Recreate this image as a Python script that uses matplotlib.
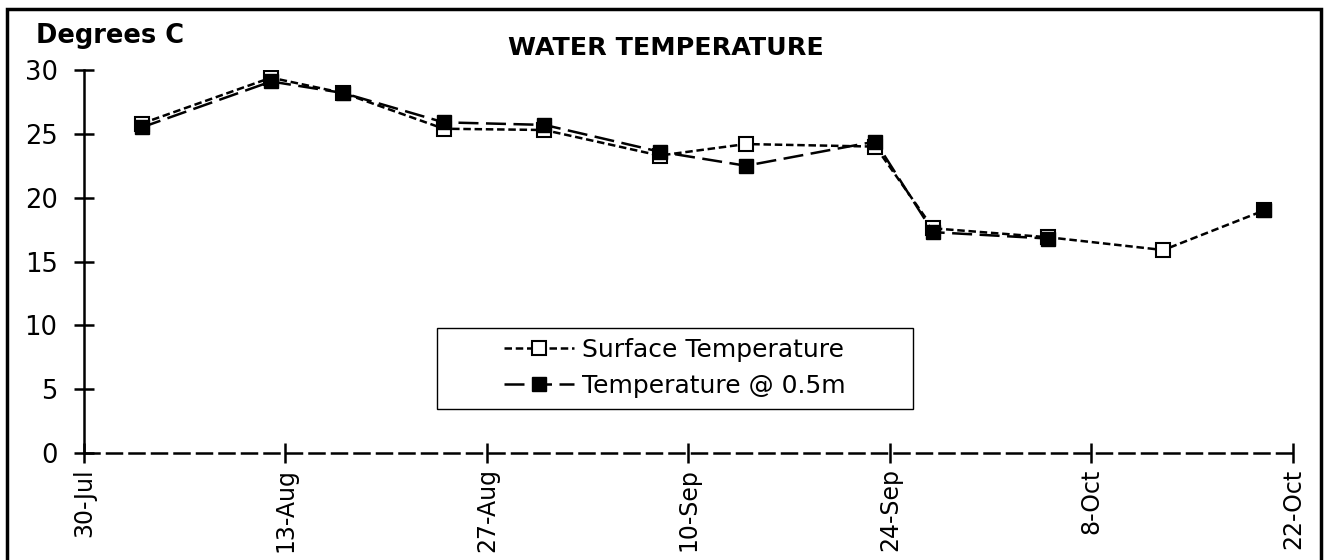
import numpy as np
import pandas as pd
import matplotlib
matplotlib.use("Agg")
import matplotlib.pyplot as plt
from matplotlib.patches import Rectangle

plt.rcParams['font.family'] = ['DejaVu Sans']

# sample dates and readings
dates = pd.to_datetime(["2007-08-03", "2007-08-12", "2007-08-17", "2007-08-24",
                        "2007-08-31", "2007-09-08", "2007-09-14", "2007-09-23",
                        "2007-09-27", "2007-10-05", "2007-10-13", "2007-10-20"])
surface = [25.8, 29.4, 28.2, 25.4, 25.3, 23.3, 24.2, 24.0, 17.6, 16.9, 15.9, 19.0]
depth_05 = [25.5, 29.1, 28.2, 25.9, 25.7, 23.6, 22.5, 24.4, 17.3, 16.8, np.nan, 19.0]

tick_dates = pd.to_datetime(["2007-07-30", "2007-08-13", "2007-08-27", "2007-09-10",
                             "2007-09-24", "2007-10-08", "2007-10-22"])
tick_labels = ["30-Jul", "13-Aug", "27-Aug", "10-Sep", "24-Sep", "8-Oct", "22-Oct"]
y_ticks = [0, 5, 10, 15, 20, 25, 30]

fig = plt.figure(figsize=(13.26, 5.6), dpi=100)
ax = fig.add_axes([0.0633, 0.191, 0.9117, 0.684])

ax.plot(dates, surface, linestyle=(0, (3, 1.5)), color='black', lw=1.8,
        marker='s', markersize=10, markerfacecolor='white', markeredgecolor='black',
        markeredgewidth=1.5, label='Surface Temperature')
ax.plot(dates, depth_05, linestyle=(0, (8, 3)), color='black', lw=1.8,
        marker='s', markersize=10, markerfacecolor='black', markeredgecolor='black',
        label='Temperature @ 0.5m')

ax.set_xlim(tick_dates[0], tick_dates[-1])
ax.set_ylim(0, 30)
ax.set_xticks(tick_dates)
ax.set_xticklabels(tick_labels, rotation=90, fontsize=17)
ax.set_yticks(y_ticks)
ax.set_yticklabels([str(v) for v in y_ticks], fontsize=18.5)

for s in ['top', 'right']:
    ax.spines[s].set_visible(False)
ax.spines['left'].set_linewidth(1.8)
ax.spines['bottom'].set_linewidth(1.8)
ax.spines['bottom'].set_linestyle((0, (6, 3)))
ax.tick_params(axis='both', direction='inout', length=14, width=1.8)
ax.tick_params(axis='x', pad=4)
ax.tick_params(axis='y', pad=12)

fig.text(0.027, 0.935, "Degrees C", fontsize=18.5, fontweight='bold', ha='left', va='center')
fig.text(0.502, 0.915, "WATER TEMPERATURE", fontsize=18.3, fontweight='bold', ha='center', va='center')

leg = ax.legend(loc='center', bbox_to_anchor=(0.509, 0.343), bbox_transform=fig.transFigure,
                fontsize=18, frameon=False,
                handlelength=2.8, handletextpad=0.3, borderpad=0.4, labelspacing=0.5)

# legend frame, wider than its contents as in the original
fig.patches.append(Rectangle((437 / 1326, 1 - 409 / 560), 476 / 1326, 81 / 560,
                             transform=fig.transFigure, fill=False, edgecolor='black', lw=1.0))

fig.patches.append(Rectangle((0.005, -0.05), 0.991, 1.034, transform=fig.transFigure,
                             fill=False, edgecolor='black', lw=2.5))

fig.savefig("out.png", dpi=100)
